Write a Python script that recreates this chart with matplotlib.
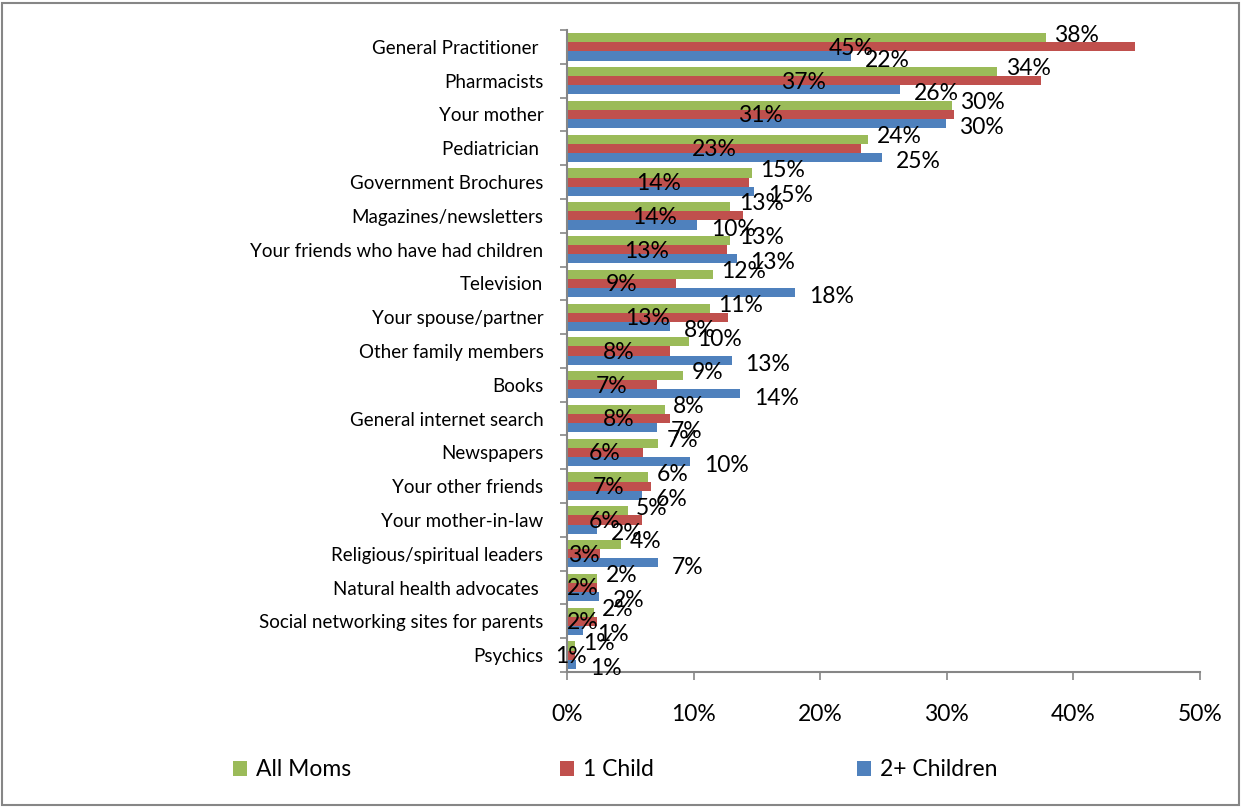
import matplotlib.pyplot as plt
import numpy as np
from matplotlib.patches import Patch, Rectangle

plt.rcParams['font.family'] = ['Lato', 'DejaVu Sans']

# survey answers, top to bottom
sources = ['General Practitioner ', 'Pharmacists', 'Your mother', 'Pediatrician ',
           'Government Brochures', 'Magazines/newsletters',
           'Your friends who have had children', 'Television', 'Your spouse/partner',
           'Other family members', 'Books', 'General internet search', 'Newspapers',
           'Your other friends', 'Your mother-in-law', 'Religious/spiritual leaders',
           'Natural health advocates ', 'Social networking sites for parents', 'Psychics']

all_moms = [37.8, 34.0, 30.4, 23.8, 14.6, 12.9, 12.9, 11.5, 11.3, 9.6,
            9.2, 7.7, 7.2, 6.4, 4.8, 4.3, 2.4, 2.1, 0.6]
one_child = [44.9, 37.4, 30.6, 23.2, 14.4, 13.9, 12.6, 8.6, 12.7, 8.1,
             7.1, 8.1, 6.0, 6.6, 5.9, 2.6, 2.4, 2.4, 0.6]
two_plus = [22.4, 26.3, 29.9, 24.9, 14.8, 10.3, 13.4, 18.0, 8.1, 13.0,
            13.7, 7.1, 9.7, 5.9, 2.4, 7.2, 2.5, 1.3, 0.7]

series_names = ['All Moms', '1 Child', '2+ Children']
colors = ['#9BBB59', '#C0504D', '#4F81BD']

fig = plt.figure(figsize=(12.41, 8.07), dpi=100)
ax = fig.add_axes([0.4569, 0.1673, 0.5101, 0.7955])

y = np.arange(len(sources))
h = 0.27
for i, (vals, c) in enumerate(zip([all_moms, one_child, two_plus], colors)):
    ax.barh(y + (i - 1) * h, vals, height=h, color=c, edgecolor='none')

lab_font = 16.5
for k in range(len(sources)):
    # green: outside end, a touch above
    v = all_moms[k]
    ax.annotate(f'{v:.0f}%', (v, y[k] - h), xytext=(6, 2), textcoords='offset points',
                ha='left', va='center', fontsize=lab_font)
    # red: centered in bar
    v = one_child[k]
    ax.annotate(f'{v:.0f}%', (v / 2, y[k]), xytext=(0, -1), textcoords='offset points',
                ha='center', va='center', fontsize=lab_font)
    # blue: outside end, a touch below
    v = two_plus[k]
    ax.annotate(f'{v:.0f}%', (v, y[k] + h), xytext=(10, -3), textcoords='offset points',
                ha='left', va='center', fontsize=lab_font)

ax.set_xlim(0, 50)
ax.set_ylim(len(sources) - 0.5, -0.5)
ax.set_xticks(np.arange(0, 51, 10))
ax.set_xticklabels([f'{t}%' for t in range(0, 51, 10)], fontsize=16.5)
ax.tick_params(axis='x', length=6, width=1.2, color='#868686', pad=17, direction='out')

ax.set_yticks(y)
ax.set_yticklabels(sources, fontsize=13.5)
ax.set_yticks(np.arange(-0.5, len(sources), 1), minor=True)
ax.tick_params(axis='y', which='major', length=0, pad=17)
ax.tick_params(axis='y', which='minor', length=5, width=1.2, color='#868686', direction='out')

for s in ['top', 'right']:
    ax.spines[s].set_visible(False)
for s in ['left', 'bottom']:
    ax.spines[s].set_color('#868686')
    ax.spines[s].set_linewidth(1.5)

# legend entries spread along the bottom
leg_x = [0.171, 0.435, 0.674]
for name, c, lx in zip(series_names, colors, leg_x):
    fig.legend(handles=[Patch(facecolor=c, label=name)], loc='center left',
               bbox_to_anchor=(lx, 0.046), frameon=False, fontsize=16.5,
               handlelength=0.6, handleheight=0.6, handletextpad=0.4)

fig.patches.append(Rectangle((0.002, 0.002), 0.996, 0.994, transform=fig.transFigure,
                             fill=False, edgecolor='#868686', linewidth=1.5))

fig.savefig('out.png', dpi=100)
